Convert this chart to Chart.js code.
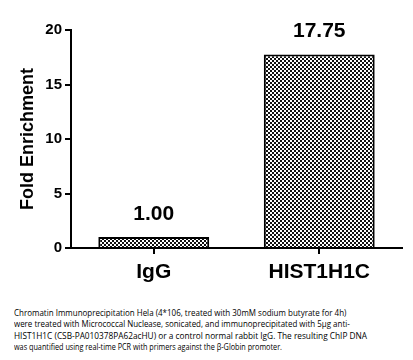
<!DOCTYPE html>
<html><head><meta charset="utf-8">
<script src="https://cdn.jsdelivr.net/npm/chart.js@4"></script>
<style>
html,body{margin:0;padding:0;background:#fff;width:413px;height:360px;overflow:hidden;}
#wrap{position:absolute;left:0;top:0;width:413px;height:290px;}
#cap{position:absolute;left:14px;top:307px;font-family:"Open Sans","Liberation Sans",sans-serif;font-size:9.2px;line-height:11.4px;color:#000;}
#cap div{white-space:nowrap;transform-origin:0 50%;}
</style></head>
<body>
<div id="wrap"><canvas id="c" width="413" height="290"></canvas></div>
<div id="cap">
<div data-w="341">Chromatin Immunoprecipitation Hela (4*106, treated with 30mM sodium butyrate for 4h)</div>
<div data-w="339">were treated with Micrococcal Nuclease, sonicated, and immunoprecipitated with 5μg anti-</div>
<div data-w="353">HIST1H1C (CSB-PA010378PA62acHU) or a control normal rabbit IgG. The resulting ChIP DNA</div>
<div data-w="309">was quantified using real-time PCR with primers against the β-Globin promoter.</div>
</div>
<script>
const categories = ["IgG", "HIST1H1C"];
const values = [1.00, 17.75];
const valueLabels = ["1.00", "17.75"];
const yTicks = [0, 5, 10, 15, 20];

document.querySelectorAll('#cap div').forEach(d => {
  const w = d.getBoundingClientRect().width;
  const t = parseFloat(d.dataset.w);
  d.style.transform = 'scaleX(' + (t / w) + ')';
});

const pc = document.createElement('canvas');
pc.width = 4; pc.height = 4;
const px = pc.getContext('2d');
px.fillStyle = '#fff'; px.fillRect(0,0,4,4);
px.fillStyle = '#111';
px.fillRect(0,0,2,2); px.fillRect(2,2,2,2);
const ctx = document.getElementById('c').getContext('2d');
const pattern = ctx.createPattern(pc, 'repeat');

const valuePlugin = {
  id: 'vals',
  afterDatasetsDraw(chart) {
    const c = chart.ctx;
    const meta = chart.getDatasetMeta(0);
    c.save();
    c.font = 'bold 21px "Liberation Sans", Arial, sans-serif';
    c.fillStyle = '#000';
    c.textAlign = 'center';
    c.textBaseline = 'middle';
    meta.data.forEach((bar, i) => {
      c.fillText(valueLabels[i], bar.x, bar.y - 23);
    });
    c.restore();
  }
};

new Chart(ctx, {
  type: 'bar',
  data: {
    labels: categories,
    datasets: [{
      data: values,
      backgroundColor: pattern,
      borderColor: '#000',
      borderWidth: 2,
      borderSkipped: 'bottom',
      categoryPercentage: 1,
      barPercentage: 0.67
    }]
  },
  options: {
    responsive: false,
    animation: false,
    devicePixelRatio: 1,
    layout: { padding: { top: 30, right: 11, left: 0, bottom: 0 } },
    plugins: { legend: { display: false }, tooltip: { enabled: false } },
    scales: {
      x: {
        offset: true,
        grid: { display: true, drawOnChartArea: false, drawTicks: true, tickLength: 6, color: '#000', lineWidth: 2, offset: false },
        border: { display: true, color: '#000', width: 2 },
        ticks: { color: '#000', font: { family: '"Liberation Sans", Arial, sans-serif', size: 21, weight: 'bold' }, padding: 6 },
        afterFit(s) { s.height = 42; }
      },
      y: {
        min: 0, max: 20,
        afterBuildTicks(s) { s.ticks = yTicks.map(v => ({ value: v })); },
        grid: { display: true, drawOnChartArea: false, drawTicks: true, tickLength: 6, color: '#000', lineWidth: 2 },
        border: { display: true, color: '#000', width: 2 },
        ticks: { color: '#000', font: { family: '"Liberation Sans", Arial, sans-serif', size: 15, weight: 'bold' }, padding: 3 },
        title: { display: true, text: 'Fold Enrichment', color: '#000', font: { family: '"Liberation Sans", Arial, sans-serif', size: 18, weight: 'bold' }, padding: { top: 17, bottom: 0 } },
        afterFit(s) { s.width = 71; }
      }
    }
  },
  plugins: [valuePlugin]
});
</script>
</body></html>
